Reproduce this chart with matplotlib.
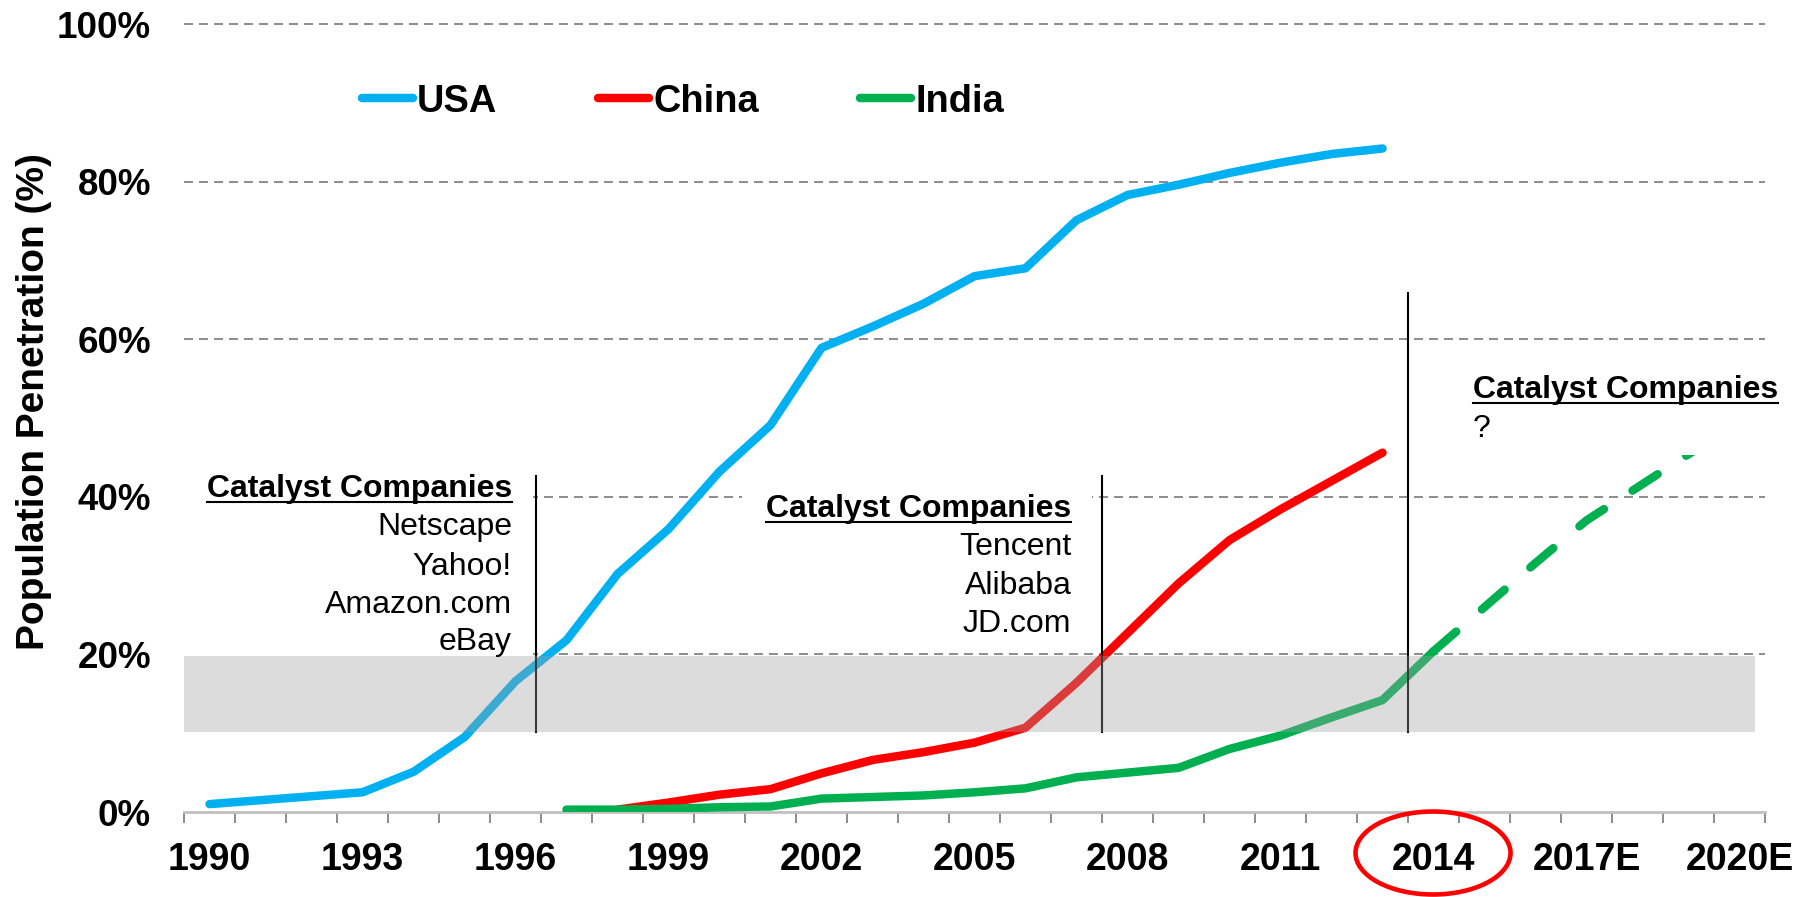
import matplotlib
matplotlib.use("Agg")
import matplotlib.pyplot as plt
from matplotlib.patches import Rectangle, Ellipse
from matplotlib.lines import Line2D
import numpy as np

plt.rcParams['font.family'] = ['Liberation Sans', 'DejaVu Sans']
plt.rcParams['lines.scale_dashes'] = False

# ---- data (population penetration, %) ----
usa_years = list(range(1990, 2014))
usa = [1.0, 1.5, 2.0, 2.5, 5.1, 9.5, 16.6, 21.8, 30.2, 35.9, 43.2, 49.1,
       58.9, 61.6, 64.5, 68.0, 69.0, 75.1, 78.3, 79.6, 81.1, 82.4, 83.5, 84.2]

china_years = list(range(1998, 2014))
china = [0.3, 1.2, 2.2, 2.9, 4.9, 6.6, 7.6, 8.8, 10.7, 16.4, 22.7, 29.0,
         34.5, 38.4, 42.0, 45.6]

india_years = list(range(1997, 2015))
india = [0.3, 0.3, 0.4, 0.6, 0.7, 1.7, 1.9, 2.1, 2.5, 3.0, 4.4, 5.0, 5.6,
         8.0, 9.7, 12.0, 14.2, 20.4]

india_proj_years = list(range(2014, 2021))
india_proj = [20.4, 26.0, 31.6, 37.0, 41.2, 45.4, 49.5]

tick_years = [1990, 1993, 1996, 1999, 2002, 2005, 2008, 2011, 2014, 2017, 2020]
tick_labels = ['1990', '1993', '1996', '1999', '2002', '2005', '2008', '2011',
               '2014', '2017E', '2020E']
y_ticks = [0, 20, 40, 60, 80, 100]

notes = [
    # (x, align, baselines, lines)
    (1995.93, 'right', [40.0, 35.2, 30.1, 25.3, 20.6],
     ['Catalyst Companies', 'Netscape', 'Yahoo!', 'Amazon.com', 'eBay']),
    (2006.9, 'right', [37.5, 32.6, 27.7, 22.9],
     ['Catalyst Companies', 'Tencent', 'Alibaba', 'JD.com']),
    (2014.77, 'left', [52.5, 47.6], ['Catalyst Companies', '?']),
]

BLUE = '#00B0F0'
RED = '#FF0000'
GREEN = '#00B050'
W, H = 1804, 897

fig = plt.figure(figsize=(W / 100, H / 100), dpi=100)
ax = fig.add_axes([184 / W, 1 - 812 / H, (1765 - 184) / W, (812 - 24) / H])
ax.set_xlim(1989.5, 2020.5)
ax.set_ylim(0, 100)

lw = 6.1
l_usa, = ax.plot(usa_years, usa, color=BLUE, lw=lw, solid_capstyle='round',
                 solid_joinstyle='round', zorder=3, label='USA')
l_chn, = ax.plot(china_years, china, color=RED, lw=lw, solid_capstyle='round',
                 solid_joinstyle='round', zorder=3, label='China')
l_ind, = ax.plot(india_years, india, color=GREEN, lw=lw, solid_capstyle='round',
                 solid_joinstyle='round', zorder=3, label='India')
ax.plot(india_proj_years, india_proj, color=GREEN, lw=lw,
        linestyle=(0, (21.6, 24.5)), dash_capstyle='round', zorder=3)

# gridlines
for yv in y_ticks[1:]:
    ax.axhline(yv, color='#8c8c8c', lw=1.4, ls=(0, (6.5, 4.3)), zorder=1,
               clip_on=False)

# white boxes behind annotation text
ax.add_patch(Rectangle((1989.5, 19.9), 1996.35 - 1989.5, 44 - 19.9,
                       facecolor='white', lw=0, zorder=2))
ax.add_patch(Rectangle((2000.45, 21.5), 2007.3 - 2000.45, 42.5 - 21.5,
                       facecolor='white', lw=0, zorder=2))
ax.add_patch(Rectangle((2014.6, 45.3), 2020.5 - 2014.6, 57 - 45.3,
                       facecolor='white', lw=0, zorder=4))

# vertical markers
ax.vlines([1996.4, 2007.5], 10, 42.8, color='black', lw=1.5, zorder=5)
ax.vlines([2013.5], 10, 66, color='black', lw=1.5, zorder=5)

# grey band 10-20%
ax.add_patch(Rectangle((1989.5, 10.1), 2020.3 - 1989.5, 19.8 - 10.1,
                       facecolor=(162 / 255, 162 / 255, 162 / 255), alpha=0.37,
                       lw=0, zorder=7))

# axes styling
for s in ['left', 'top', 'right']:
    ax.spines[s].set_visible(False)
ax.spines['bottom'].set_color('#c0c0c0')
ax.spines['bottom'].set_linewidth(2)
ax.spines['bottom'].set_zorder(2)

ax.set_xticks(tick_years)
ax.set_xticklabels(tick_labels, fontsize=27, fontweight='bold')
ax.set_xticks(np.arange(1989.5, 2021, 1), minor=True)
ax.tick_params(axis='x', which='major', length=0, pad=21.6)
ax.tick_params(axis='x', which='minor', length=8, width=1.4, color='#8c8c8c',
               direction='out')

ax.set_yticks(y_ticks)
ax.set_yticklabels([f'{v}%' for v in y_ticks], fontsize=26.5, fontweight='bold')
ax.tick_params(axis='y', length=0, pad=23.8)

fig.text(34.5 / W, 1 - 401.5 / H, 'Population Penetration (%)', rotation=90,
         ha='center', va='center', fontsize=28, fontweight='bold')

# legend
fig.legend(handles=[l_usa, l_chn, l_ind], loc='center left',
           bbox_to_anchor=(362 / W, 1 - 101.5 / H), ncol=3, frameon=False,
           prop={'weight': 'bold', 'size': 27.4},
           handlelength=1.33, handletextpad=0.12, columnspacing=2.65,
           borderpad=0, borderaxespad=0)

# annotations
texts = []
for x, ha, bases, lines in notes:
    for i, (b, s) in enumerate(zip(bases, lines)):
        t = ax.text(x, b, s, ha=ha, va='baseline', fontsize=23,
                    fontweight='bold' if i == 0 else 'normal', zorder=8)
        if i == 0:
            texts.append((t, b))

fig.canvas.draw()
renderer = fig.canvas.get_renderer()
for t, b in texts:
    bb = t.get_window_extent(renderer=renderer)
    ybase = ax.transData.transform((2000, b))[1] - 5
    fig.add_artist(Line2D([bb.x0 / W, bb.x1 / W], [ybase / H, ybase / H],
                          transform=fig.transFigure, color='black', lw=1.5))

# red circle around 2014
fig.add_artist(Ellipse((1433 / W, 1 - 853 / H), 155 / W, 83 / H,
                       transform=fig.transFigure, fill=False,
                       edgecolor='#FF0000', lw=3.3, clip_on=False))

fig.savefig('out.png', dpi=100, facecolor='white')
